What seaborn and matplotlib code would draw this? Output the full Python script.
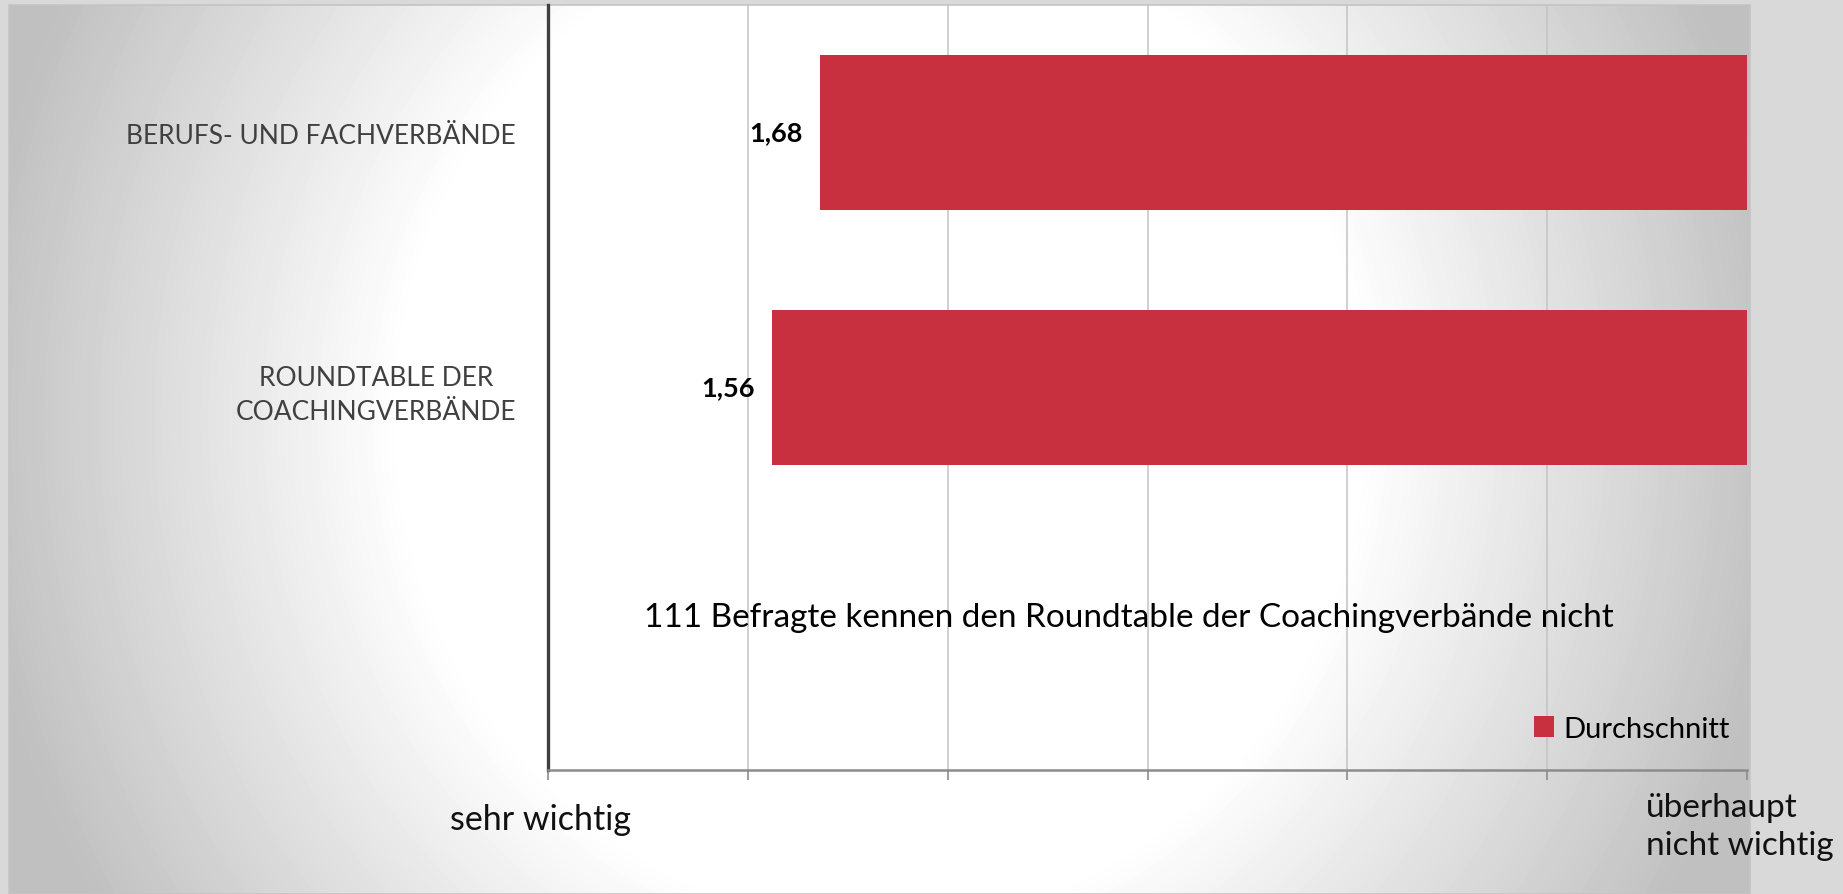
import numpy as np
import pandas as pd
import matplotlib
matplotlib.use("Agg")
import matplotlib.pyplot as plt
import seaborn as sns

# Data (1 = sehr wichtig ... 4 = überhaupt nicht wichtig)
categories = ["BERUFS- UND FACHVERBÄNDE", "ROUNDTABLE DER\nCOACHINGVERBÄNDE"]
averages = [1.68, 1.56]
scale_max = 4
series_name = "Durchschnitt"
note = "111 Befragte kennen den Roundtable der Coachingverbände nicht"
left_label = "sehr wichtig"
right_label = "überhaupt\nnicht wichtig"

bar_color = "#c8303f"

sns.set_theme(style="white")
plt.rcParams["font.family"] = ["Lato", "DejaVu Sans"]

W, H = 1843, 895
fig = plt.figure(figsize=(W / 100, H / 100), dpi=100)
fig.patch.set_facecolor("#d9d9d9")

# Background gradient of the chart area (white centre, grey edges)
x0, x1, y0, y1 = 9, 1750, 6, 895
xs = np.arange(x0, x1)
ys = np.arange(y0, y1)
gx, gy = np.meshgrid(xs, ys)
r = np.sqrt(((gx - 880) / 480.0) ** 2 + ((gy - 420) / 500.0) ** 2)
gray = np.clip(255 - 70 * (r - 1), 192, 255)
gray = np.where(r < 1, 255, gray) / 255.0
bg = fig.add_axes([x0 / W, 1 - y1 / H, (x1 - x0) / W, (y1 - y0) / H], zorder=0)
bg.imshow(gray, cmap="gray", vmin=0, vmax=1, aspect="auto", interpolation="bilinear")
bg.set_axis_off()
fig.add_artist(plt.Rectangle((x0 / W, 1 - y1 / H), (x1 - x0) / W, (y1 - y0) / H,
                             transform=fig.transFigure, fill=False,
                             edgecolor="#c4c4c4", lw=1.2, zorder=0.5))

# Main plot area
ax_l, ax_r, ax_t, ax_b = 548, 1747, 6, 771
ax = fig.add_axes([ax_l / W, 1 - ax_b / H, (ax_r - ax_l) / W, (ax_b - ax_t) / H], zorder=1)
ax.patch.set_alpha(0)

df = pd.DataFrame({"Kategorie": categories, "Wert": averages})
df["Abstand"] = scale_max - df["Wert"]

# bars run from the value up to the right end of the scale -> plot the
# distance to the scale end on an inverted axis
sns.barplot(data=df, x="Abstand", y="Kategorie", orient="h", color=bar_color,
            saturation=1, width=0.61, label=series_name, linewidth=0, ax=ax)

ax.set_xlim(scale_max - 1, 0)
ax.set_ylim(2.5, -0.5)
ax.set_xticks(np.arange(0, scale_max - 1 + 0.01, 0.5))
ax.set_xticklabels([])
ax.set_xlabel("")
ax.set_ylabel("")
ax.xaxis.grid(True, color="#c3c3c3", lw=1.1)
ax.set_axisbelow(True)

for s in ["top", "right"]:
    ax.spines[s].set_visible(False)
ax.spines["left"].set_color("#404040")
ax.spines["left"].set_linewidth(2.4)
ax.spines["bottom"].set_color("#8c8c8c")
ax.spines["bottom"].set_linewidth(1.8)

ax.tick_params(axis="x", bottom=True, direction="out", length=7, width=1.2, color="#8c8c8c")
ax.tick_params(axis="y", left=False, pad=17, labelsize=19, labelcolor="#404040")
for lbl in ax.get_yticklabels():
    lbl.set_horizontalalignment("right")
    lbl.set_multialignment("center")
    lbl.set_linespacing(1.45)

# value labels left of the bars
for i, (w, v) in enumerate(zip(df["Abstand"], df["Wert"])):
    ax.annotate(f"{v:.2f}".replace(".", ","), xy=(w, i), xytext=(-12, 0),
                textcoords="offset points", ha="right", va="center",
                fontsize=19.5, fontweight="bold", color="#000000")

ax.text(0.4846, 0.2, note, transform=ax.transAxes, ha="center", va="center",
        fontsize=24, color="#000000")

leg = ax.legend(loc="lower right", bbox_to_anchor=(1.0, 0.014), frameon=False,
                fontsize=21, handlelength=0.7, handleheight=0.7,
                handletextpad=0.3, borderaxespad=0.2)
for t in leg.get_texts():
    t.set_color("#000000")

fig.text(541 / W, 1 - 820 / H, left_label, ha="center", va="center",
         fontsize=24.5, color="#111111")
fig.text(1646 / W, 1 - 827 / H, right_label, ha="left", va="center",
         fontsize=24, color="#111111", linespacing=1.3)

fig.savefig("out.png", dpi=100, facecolor=fig.get_facecolor())
